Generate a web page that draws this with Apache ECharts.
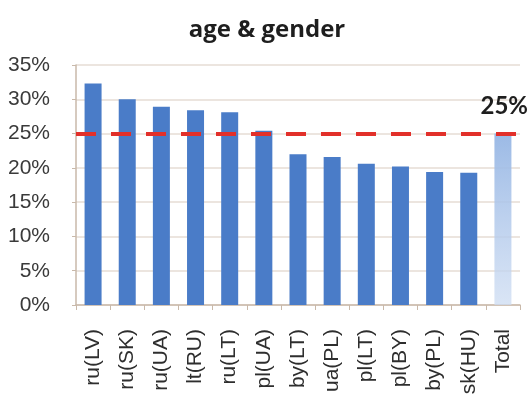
<!DOCTYPE html>
<html>
<head>
<meta charset="utf-8">
<script src="https://cdn.jsdelivr.net/npm/echarts@6/dist/echarts.min.js"></script>
<style>
  html, body { margin: 0; padding: 0; background: #ffffff; }
  #chart { width: 531px; height: 396px; }
</style>
</head>
<body>
<div id="chart"></div>
<script>
// Share of respondents by group (percent)
const categories = ['ru(LV)', 'ru(SK)', 'ru(UA)', 'lt(RU)', 'ru(LT)', 'pl(UA)', 'by(LT)', 'ua(PL)', 'pl(LT)', 'pl(BY)', 'by(PL)', 'sk(HU)', 'Total'];
const values = [32.3, 30.0, 28.9, 28.4, 28.1, 25.4, 22.0, 21.6, 20.6, 20.2, 19.4, 19.3, 25];
const totalLevel = 25;
const yTicks = { min: 0, max: 35, interval: 5 };

const barBlue = '#4a7cc8';
const labelFont = '"Liberation Sans", Arial, sans-serif';

const seriesData = values.map((v, i) => ({
  value: v,
  itemStyle: categories[i] === 'Total'
    ? { color: new echarts.graphic.LinearGradient(0, 0, 0, 1, [
        { offset: 0, color: 'rgba(150,182,228,0.95)' },
        { offset: 1, color: 'rgba(205,220,242,0.75)' }
      ]) }
    : { color: barBlue }
}));

const chart = echarts.init(document.getElementById('chart'));
chart.setOption({
  animation: false,
  backgroundColor: '#ffffff',
  title: {
    text: 'age & gender',
    left: 262,
    textAlign: 'center',
    top: 13,
    textStyle: { fontFamily: 'Open Sans', fontWeight: 'bold', fontSize: 24, color: '#1e1e1e' }
  },
  grid: { left: 76, right: 11, top: 65, bottom: 91, outerBoundsMode: 'none' },
  xAxis: {
    type: 'category',
    data: categories,
    axisLine: { lineStyle: { color: '#c9b9aa', width: 1.5 } },
    axisTick: { show: true, length: 5, lineStyle: { color: '#c9b9aa' } },
    axisLabel: {
      rotate: 90,
      margin: 24,
      fontFamily: labelFont,
      fontSize: 21,
      color: '#2e2e2e'
    },
    splitLine: { show: false }
  },
  yAxis: {
    type: 'value',
    min: yTicks.min,
    max: yTicks.max,
    interval: yTicks.interval,
    axisLine: { show: true, lineStyle: { color: '#c9b9aa', width: 1.5 } },
    axisTick: { show: true, length: 4, lineStyle: { color: '#c9b9aa' } },
    axisLabel: {
      formatter: '{value}%',
      margin: 26,
      fontFamily: labelFont,
      fontSize: 21,
      color: '#3a3a3a'
    },
    splitLine: { show: true, lineStyle: { color: '#e6ddd4', width: 1.5 } }
  },
  series: [{
    type: 'bar',
    data: seriesData,
    barWidth: 17,
    markLine: {
      symbol: ['none', 'none'],
      silent: true,
      data: [{ yAxis: totalLevel }],
      lineStyle: { color: '#e2302a', width: 4, type: [20, 15] },
      label: {
        show: true,
        position: 'insideEndTop',
        distance: [-8, 15],
        formatter: (p) => Math.round(p.value) + '%',
        fontFamily: 'Lato',
        fontWeight: 'bold',
        fontSize: 24,
        color: '#1e1e1e'
      }
    }
  }]
});
</script>
</body>
</html>
